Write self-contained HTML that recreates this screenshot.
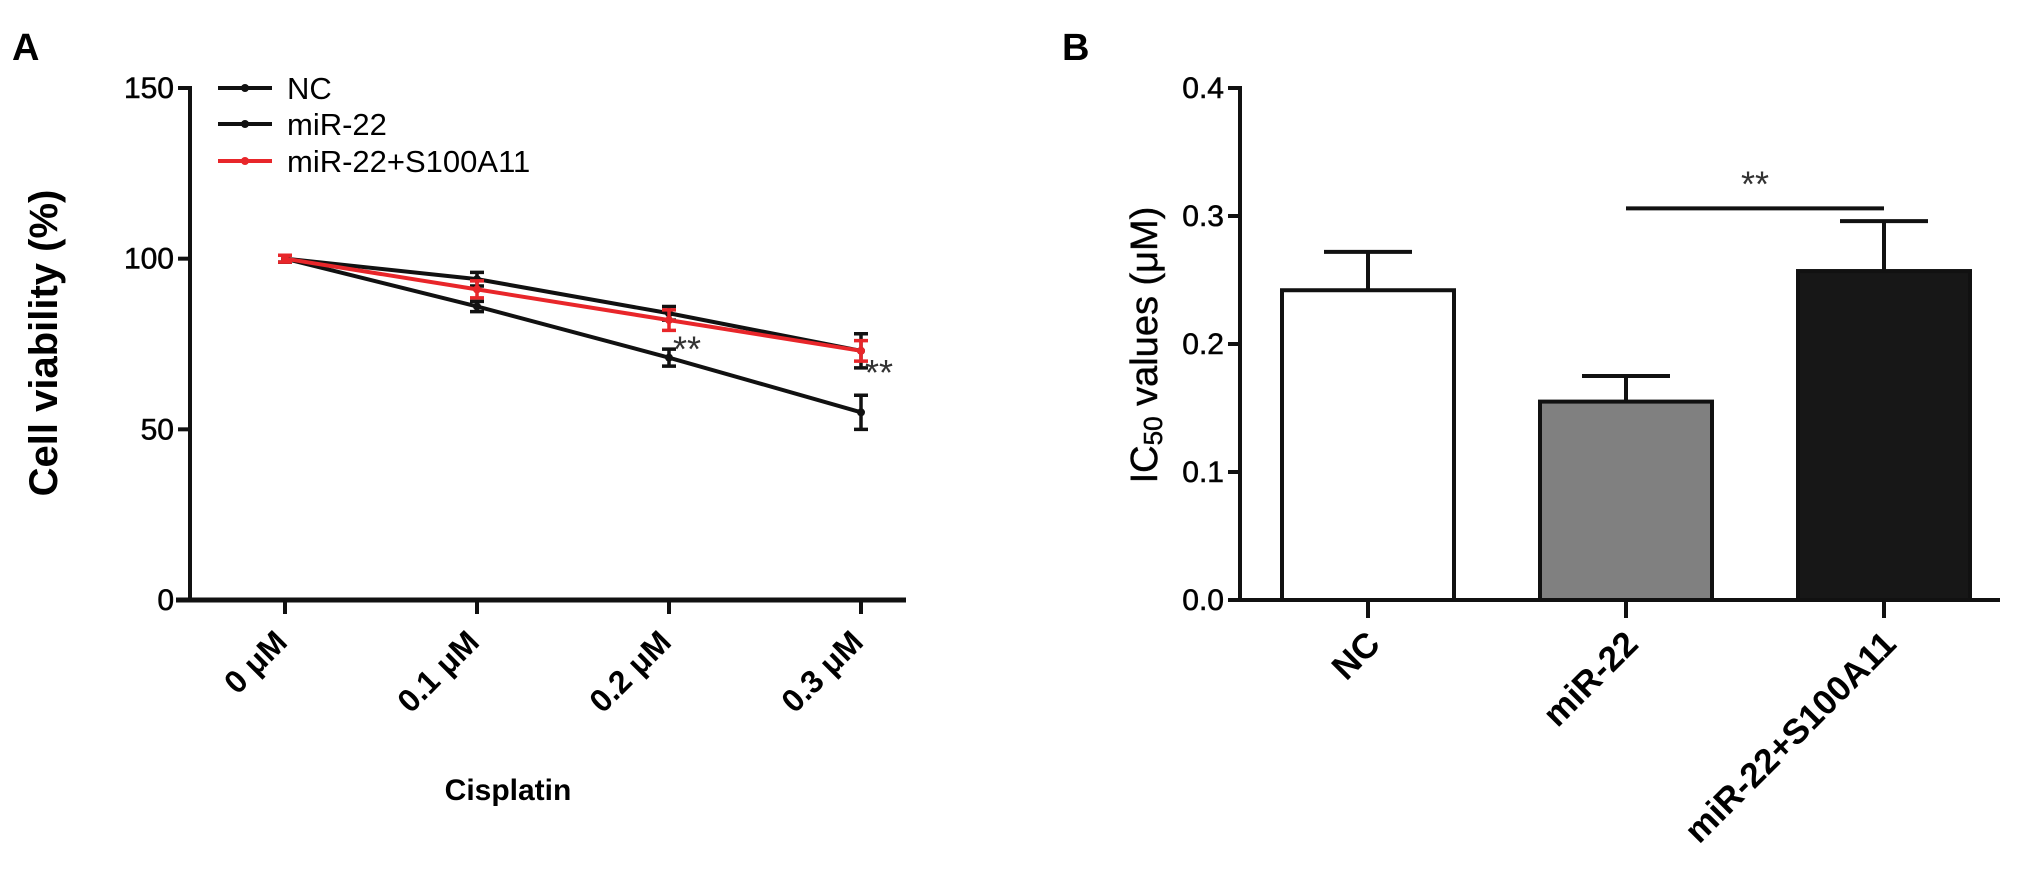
<!DOCTYPE html>
<html><head><meta charset="utf-8"><style>
html,body{margin:0;padding:0;background:#fff;}
svg{display:block;font-family:"Liberation Sans",Arial,sans-serif;}
</style></head><body>
<svg id="fig" width="2031" height="894" viewBox="0 0 2031 894" xmlns="http://www.w3.org/2000/svg">
<text x="12" y="60" font-size="38" font-weight="bold">A</text>
<text x="1062" y="60" font-size="38" font-weight="bold">B</text>
<g id="panelA"></g>
<g id="panelB"></g>
</svg>
<script>
// ---- Panel A data ----
const doses = ["0 μM","0.1 μM","0.2 μM","0.3 μM"];
const yTicksA = [0,50,100,150];
const ncVals = [100,94,84,73];
const ncErr = [1,2,2,5];
const mirVals = [100,86,71,55];
const mirErr = [1,1.5,2.5,5];
const resVals = [100,91,82,73];
const resErr = [1,2.5,3,3];
const seriesNames = ["NC","miR-22","miR-22+S100A11"];
// ---- Panel B data ----
const groups = ["NC","miR-22","miR-22+S100A11"];
const ic50 = [0.242,0.155,0.257];
const ic50Err = [0.030,0.020,0.039];
const yTicksB = [0.0,0.1,0.2,0.3,0.4];
const sigPair = [1,2];
const sigValue = 0.306;

const NS="http://www.w3.org/2000/svg";
function mk(tag,attrs,parent,txt){const e=document.createElementNS(NS,tag);for(const k in attrs)e.setAttribute(k,attrs[k]);if(txt!==undefined)e.textContent=txt;parent.appendChild(e);return e;}

// Panel A
const A=document.getElementById('panelA');
const ax0=190, ax1=906, ay0=600, ay1=88;
const yA=v=>ay0-(v-0)/(150-0)*(ay0-ay1);
const xA=i=>285+i*192;
let e=mk('line',{x1:ax0,y1:ay1-2,x2:ax0,y2:ay0+2,stroke:'#111','stroke-width':4},A);


e=mk('line',{x1:ax0-14,y1:ay0,x2:ax1,y2:ay0,stroke:'#111','stroke-width':5},A);


yTicksA.forEach(v=>{
  const t=mk('line',{x1:ax0-12,y1:yA(v),x2:ax0,y2:yA(v),stroke:'#111','stroke-width':4},A);
  
  
  const l=mk('text',{x:ax0-16,y:yA(v)+10,'text-anchor':'end','font-size':30,stroke:'#111','stroke-width':0.6},A,String(v));
  
  
});
doses.forEach((d,i)=>{
  const t=mk('line',{x1:xA(i),y1:ay0,x2:xA(i),y2:ay0+14,stroke:'#111','stroke-width':4},A);
  
  
  const l=mk('text',{x:0,y:0,'text-anchor':'end','font-size':32,'font-weight':'bold',transform:`translate(${xA(i)+4},${ay0+44}) rotate(-45)`},A,d);
  
  
});
e=mk('text',{x:0,y:0,'text-anchor':'middle','font-size':40,'font-weight':'bold',transform:`translate(57,343) rotate(-90)`},A,"Cell viability (%)");


e=mk('text',{x:508,y:800,'text-anchor':'middle','font-size':30,'font-weight':'bold'},A,"Cisplatin");



const series=[[ncVals,ncErr,'#111'],[mirVals,mirErr,'#111'],[resVals,resErr,'#e8262a']];
series.forEach(([vals,errs,col],s)=>{
  const g=mk('g',{},A);
  
  
  const pts=vals.map((v,i)=>xA(i)+','+yA(v)).join(' ');
  mk('polyline',{points:pts,fill:'none',stroke:col,'stroke-width':4},g);
  vals.forEach((v,i)=>{
    const x=xA(i),yt=yA(v+errs[i]),yb=yA(v-errs[i]);
    mk('path',{d:`M${x},${yt}V${yb}M${x-7},${yt}H${x+7}M${x-7},${yb}H${x+7}`,stroke:col,'stroke-width':3.5,fill:'none'},g);
    mk('circle',{cx:x,cy:yA(v),r:4,fill:col},g);
  });
});
e=mk('text',{x:xA(2)+4,y:yA(mirVals[2])+4,'font-size':36,fill:'#333'},A,"**");


e=mk('text',{x:xA(3)+4,y:yA(resVals[3])+34,'font-size':36,fill:'#333'},A,"**");



// legend
const legY=[88,124,161], legCol=['#111','#111','#e8262a'];
seriesNames.forEach((n,i)=>{
  const g=mk('g',{},A);
  
  
  mk('line',{x1:218,y1:legY[i],x2:272,y2:legY[i],stroke:legCol[i],'stroke-width':4},g);
  mk('circle',{cx:245,cy:legY[i],r:4,fill:legCol[i]},g);
  mk('text',{x:287,y:legY[i]+11,'font-size':31},g,n);
});

// Panel B
const B=document.getElementById('panelB');
const bx0=1240,bx1=2000,by0=600,by1=88;
const yB=v=>by0-v/0.4*(by0-by1);
const xB=i=>1368+i*258;
const bw=172;
const fills=['#ffffff','#808080','#171717'];
e=mk('line',{x1:bx0,y1:by1-2,x2:bx0,y2:by0+2,stroke:'#111','stroke-width':4},B);


e=mk('line',{x1:bx0-12,y1:by0,x2:bx1,y2:by0,stroke:'#111','stroke-width':4},B);


yTicksB.forEach(v=>{
  const t=mk('line',{x1:bx0-12,y1:yB(v),x2:bx0,y2:yB(v),stroke:'#111','stroke-width':4},B);
  
  
  const l=mk('text',{x:bx0-16,y:yB(v)+10,'text-anchor':'end','font-size':30,stroke:'#111','stroke-width':0.6},B,v.toFixed(1));
  
  
});
groups.forEach((gname,i)=>{
  const cx=xB(i),top=yB(ic50[i]),et=yB(ic50[i]+ic50Err[i]);
  const eb=mk('path',{d:`M${cx},${top}V${et}M${cx-44},${et}H${cx+44}`,stroke:'#111','stroke-width':4,fill:'none'},B);
  
  
  const r=mk('rect',{x:cx-bw/2,y:top,width:bw,height:by0-top,fill:fills[i],stroke:'#111','stroke-width':4},B);
  
  
  const t=mk('line',{x1:cx,y1:by0,x2:cx,y2:by0+18,stroke:'#111','stroke-width':4},B);
  
  
  const l=mk('text',{x:0,y:0,'text-anchor':'end','font-size':35,'font-weight':'bold',transform:`translate(${cx+14},${by0+46}) rotate(-45)`},B,gname);
  
  
});
e=mk('line',{x1:xB(sigPair[0]),y1:yB(sigValue),x2:xB(sigPair[1]),y2:yB(sigValue),stroke:'#111','stroke-width':4},B);


e=mk('text',{x:(xB(sigPair[0])+xB(sigPair[1]))/2,y:yB(sigValue)-12,'text-anchor':'middle','font-size':36,fill:'#333'},B,"**");


const yt=mk('text',{x:0,y:0,'text-anchor':'middle','font-size':38,transform:`translate(1157,345) rotate(-90)`,stroke:'#111','stroke-width':0.5},B);


mk('tspan',{},yt,"IC");
mk('tspan',{'font-size':26,dy:5},yt,"50");
mk('tspan',{dy:-5},yt," values (μM)");
</script>
</body></html>
